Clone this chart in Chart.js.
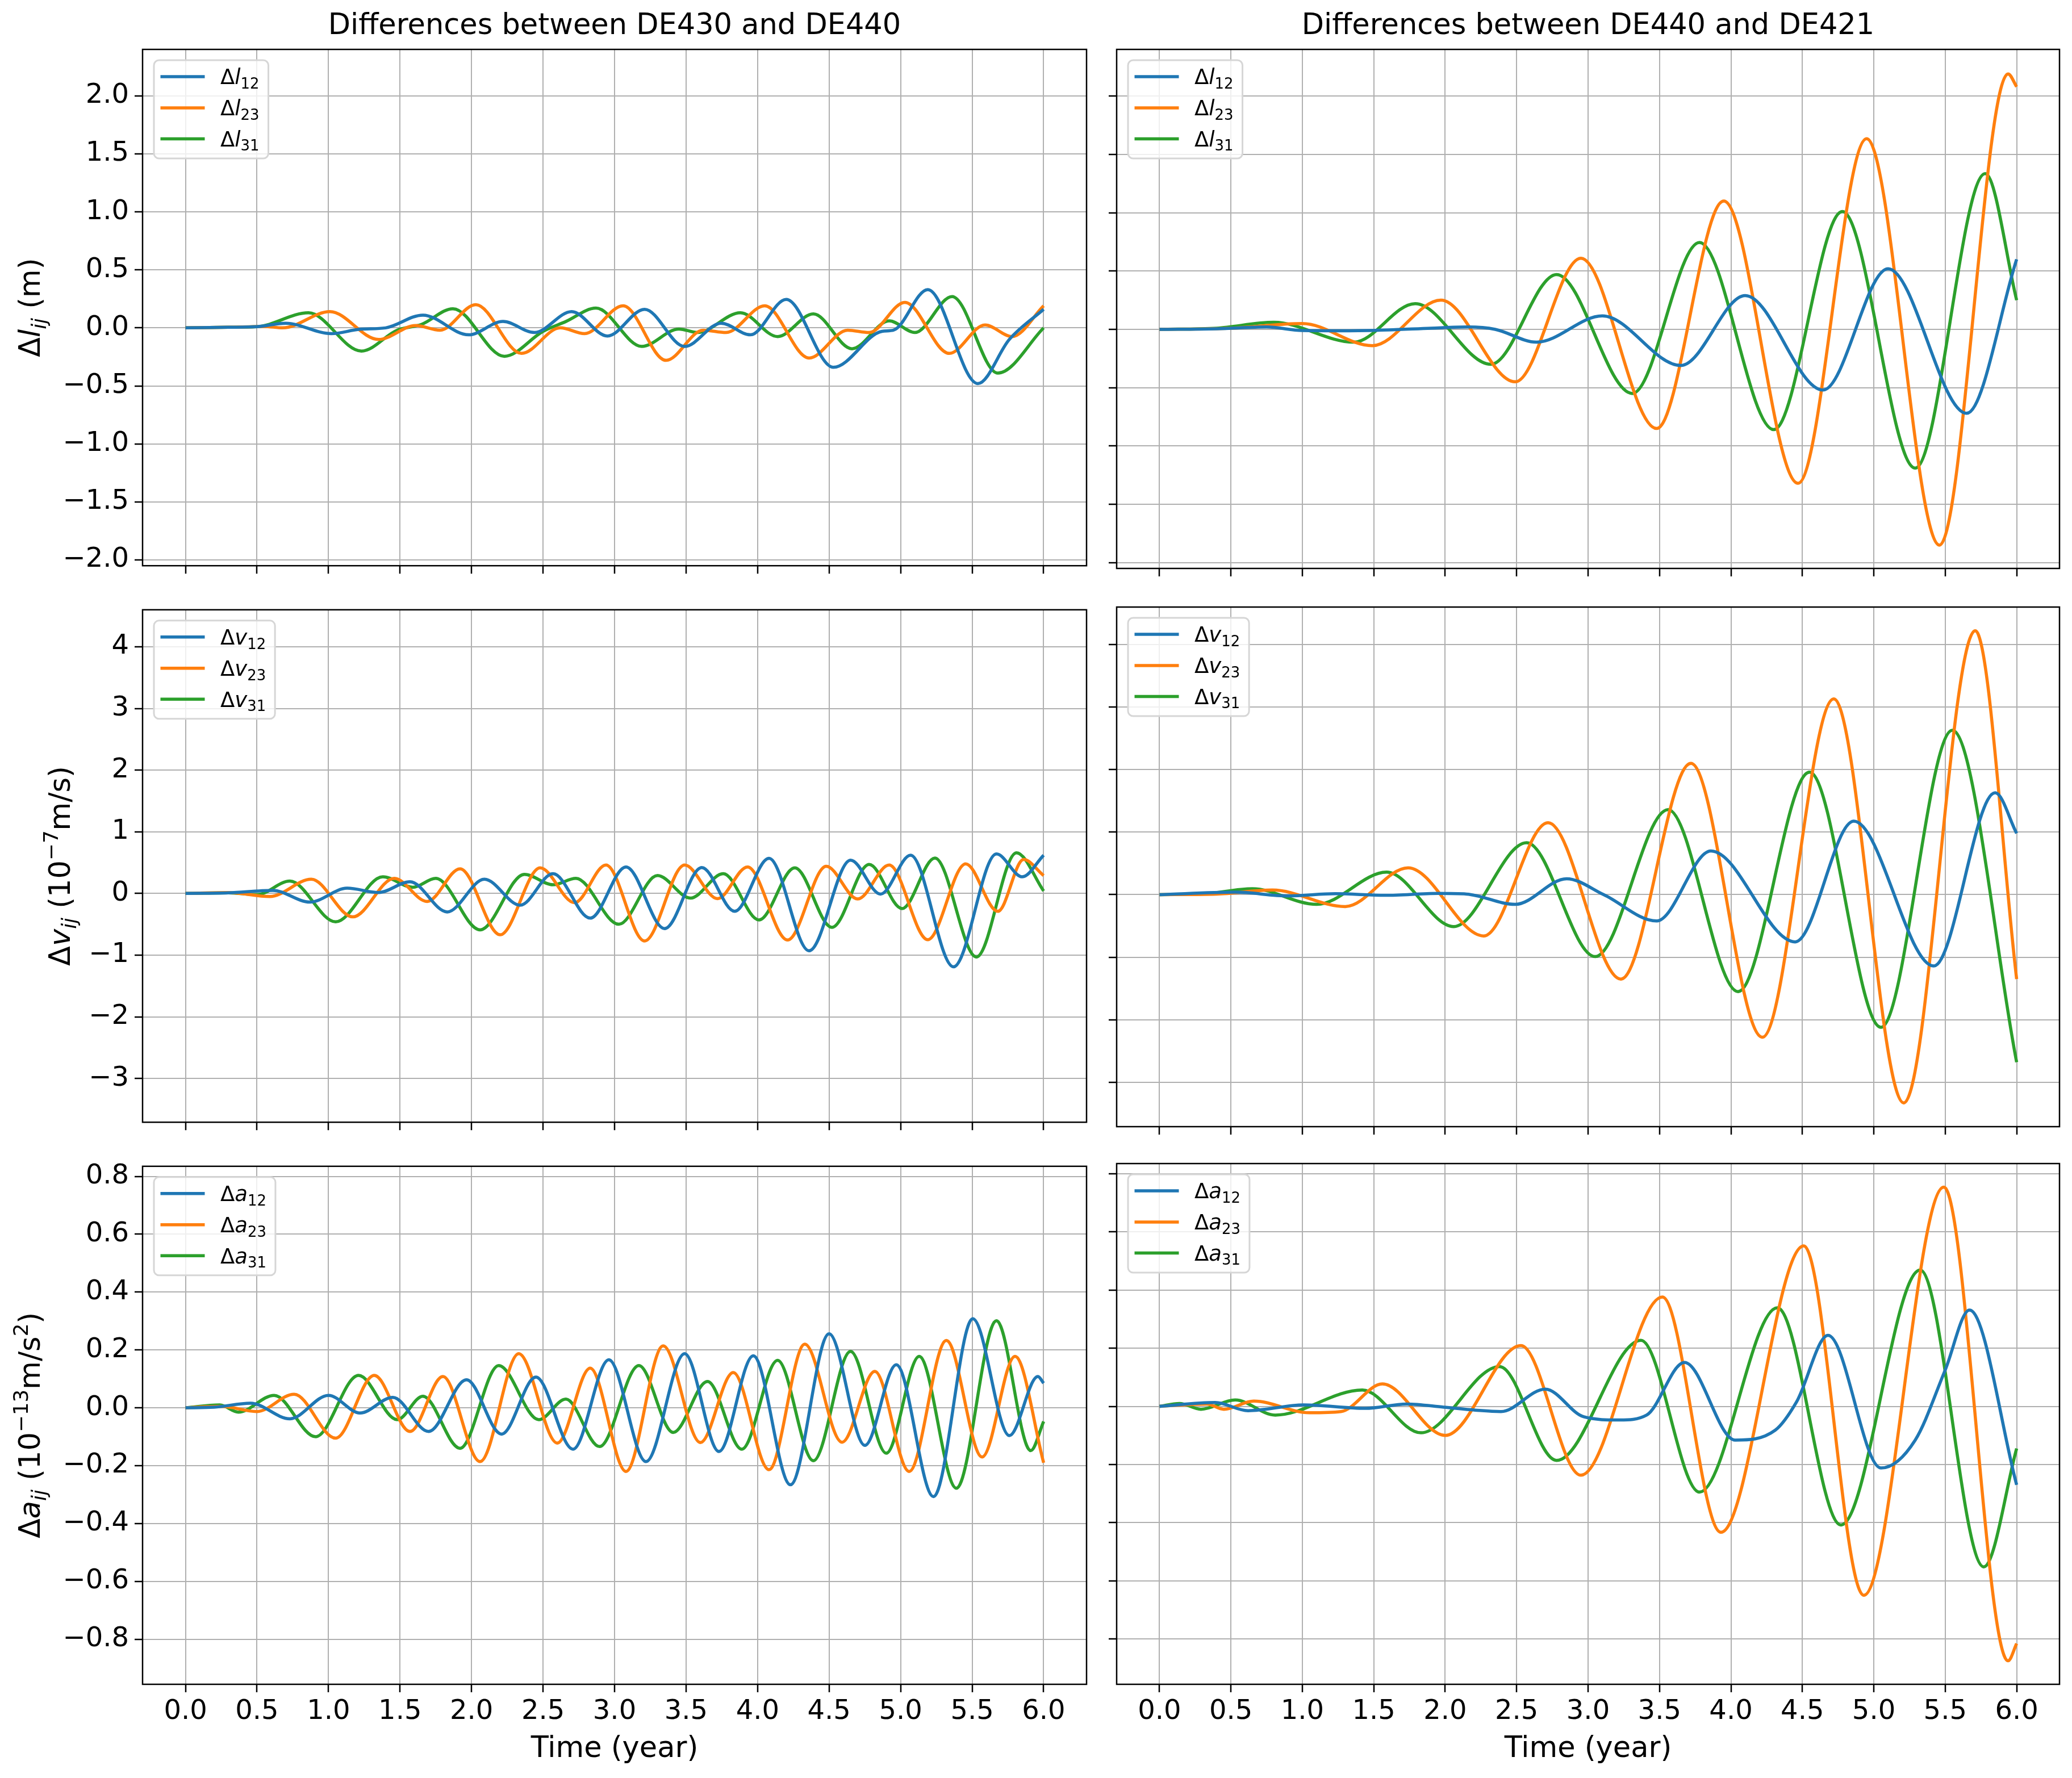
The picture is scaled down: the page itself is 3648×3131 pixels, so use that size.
<!DOCTYPE html>
<html>
<head>
<meta charset="utf-8">
<title>Ephemeris differences</title>
<script src="https://cdn.jsdelivr.net/npm/chart.js@4.4.1/dist/chart.umd.min.js"></script>
<style>
  body { margin: 0; background: #fff; }
  #fig { position: relative; width: 3648px; height: 3131px; background: #fff; overflow: hidden; }
  #fig canvas { position: absolute; }
</style>
</head>
<body>
<div id="fig"></div>
<script>
// time axis and tick values
const xTicks = [0, 0.5, 1, 1.5, 2, 2.5, 3, 3.5, 4, 4.5, 5, 5.5, 6];
const lenTicks = [-2, -1.5, -1, -0.5, 0, 0.5, 1, 1.5, 2];
const velTicks = [-3, -2, -1, 0, 1, 2, 3, 4];
const accTicks = [-0.8, -0.6, -0.4, -0.2, 0, 0.2, 0.4, 0.6, 0.8];

// Δl (m), DE430 vs DE440
const lenA12t = [0, 0.3, 0.5, 0.7, 1.02, 1.22, 1.40, 1.66, 1.98, 2.22, 2.44, 2.70, 2.95, 3.21, 3.49, 3.745, 3.95, 4.20, 4.53, 4.87, 4.95, 5.19, 5.54, 5.76, 6.0];
const lenA12 = [0, 0.005, 0.01, 0.04, -0.05, -0.012, 0.0, 0.11, -0.06, 0.055, -0.04, 0.14, -0.07, 0.16, -0.16, 0.04, -0.06, 0.245, -0.34, -0.03, -0.02, 0.33, -0.48, -0.10, 0.16];
const lenA23t = [0, 0.3, 0.55, 0.68, 1.01, 1.35, 1.61, 1.78, 2.03, 2.35, 2.62, 2.79, 3.06, 3.36, 3.62, 3.78, 4.05, 4.36, 4.63, 4.78, 5.03, 5.34, 5.59, 5.78, 6.0];
const lenA23 = [0, 0.005, 0.012, 0.0, 0.14, -0.10, 0.02, -0.02, 0.20, -0.22, 0.0, -0.05, 0.19, -0.28, -0.02, -0.04, 0.19, -0.26, -0.02, -0.04, 0.22, -0.22, 0.025, -0.075, 0.19];
const lenA31t = [0, 0.3, 0.5, 0.86, 1.23, 1.48, 1.65, 1.87, 2.23, 2.50, 2.66, 2.87, 3.19, 3.45, 3.58, 3.88, 4.14, 4.39, 4.66, 4.92, 5.10, 5.36, 5.68, 6.0];
const lenA31 = [0, 0.005, 0.01, 0.13, -0.20, -0.02, 0.03, 0.165, -0.245, -0.03, 0.055, 0.17, -0.16, -0.01, -0.04, 0.13, -0.075, 0.12, -0.18, 0.06, -0.04, 0.27, -0.39, 0.0];

// Δl (m), DE440 vs DE421
const lenB12t = [0, 0.4, 0.75, 1.0, 1.3, 1.6, 1.9, 2.16, 2.35, 2.64, 3.10, 3.65, 4.10, 4.645, 5.10, 5.65, 6.0];
const lenB12 = [0, 0.005, 0.02, -0.01, -0.012, -0.005, 0.01, 0.02, 0.0, -0.11, 0.115, -0.31, 0.29, -0.52, 0.52, -0.72, 0.6];
const lenB23t = [0, 0.5, 1.0, 1.49, 1.97, 2.49, 2.95, 3.48, 3.95, 4.47, 4.95, 5.46, 5.94, 6.0];
const lenB23 = [0, 0.01, 0.05, -0.14, 0.25, -0.45, 0.61, -0.85, 1.10, -1.32, 1.635, -1.85, 2.19, 2.08];
const lenB31t = [0, 0.4, 0.80, 1.36, 1.79, 2.32, 2.78, 3.31, 3.78, 4.30, 4.78, 5.29, 5.78, 6.0];
const lenB31 = [0, 0.01, 0.06, -0.11, 0.22, -0.30, 0.47, -0.55, 0.745, -0.86, 1.01, -1.19, 1.335, 0.25];

// Δv (1e-7 m/s), DE430 vs DE440
const velA12t = [0, 0.3, 0.61, 0.87, 1.13, 1.35, 1.57, 1.83, 2.09, 2.34, 2.57, 2.83, 3.08, 3.35, 3.61, 3.84, 4.08, 4.36, 4.65, 4.86, 5.07, 5.37, 5.67, 5.85, 6.0];
const velA12 = [0, 0.01, 0.05, -0.14, 0.085, 0.015, 0.19, -0.30, 0.23, -0.19, 0.32, -0.40, 0.43, -0.57, 0.42, -0.29, 0.57, -0.93, 0.54, -0.01, 0.62, -1.19, 0.64, 0.27, 0.62];
const velA23t = [0, 0.3, 0.59, 0.88, 1.17, 1.46, 1.69, 1.92, 2.20, 2.48, 2.72, 2.94, 3.21, 3.49, 3.72, 3.93, 4.21, 4.48, 4.70, 4.92, 5.19, 5.455, 5.68, 5.86, 6.0];
const velA23 = [0, 0.015, -0.05, 0.23, -0.38, 0.245, -0.13, 0.40, -0.67, 0.415, -0.15, 0.46, -0.77, 0.46, -0.085, 0.43, -0.755, 0.44, -0.09, 0.46, -0.75, 0.48, -0.29, 0.55, 0.29];
const velA31t = [0, 0.3, 0.5, 0.73, 1.05, 1.38, 1.59, 1.75, 2.06, 2.37, 2.57, 2.73, 3.03, 3.30, 3.53, 3.76, 4.01, 4.26, 4.52, 4.78, 5.01, 5.24, 5.53, 5.81, 6.0];
const velA31 = [0, 0.01, -0.02, 0.2, -0.46, 0.27, 0.10, 0.245, -0.59, 0.31, 0.14, 0.245, -0.5, 0.29, -0.075, 0.32, -0.43, 0.415, -0.55, 0.47, -0.245, 0.575, -1.03, 0.66, 0.04];

// Δv (1e-7 m/s), DE440 vs DE421
const velB12t = [0, 0.53, 0.9, 1.23, 1.58, 1.95, 2.15, 2.49, 2.85, 3.11, 3.48, 3.86, 4.45, 4.86, 5.42, 5.85, 6.0];
const velB12 = [0, 0.04, -0.02, 0.015, -0.01, 0.02, 0.01, -0.155, 0.255, 0.0, -0.42, 0.70, -0.755, 1.175, -1.14, 1.63, 0.98];
const velB23t = [0, 0.4, 0.79, 1.30, 1.74, 2.27, 2.72, 3.23, 3.72, 4.22, 4.72, 5.21, 5.71, 6.0];
const velB23 = [0, 0.01, 0.075, -0.19, 0.43, -0.66, 1.15, -1.35, 2.10, -2.28, 3.13, -3.33, 4.22, -1.35];
const velB31t = [0, 0.3, 0.65, 1.10, 1.59, 2.06, 2.57, 3.05, 3.56, 4.05, 4.55, 5.05, 5.55, 6.0];
const velB31 = [0, 0.01, 0.095, -0.155, 0.36, -0.51, 0.83, -0.99, 1.36, -1.55, 1.96, -2.12, 2.63, -2.68];

// Δa (1e-13 m/s^2), DE430 vs DE440
const accA12t = [0, 0.2, 0.455, 0.73, 1.0, 1.22, 1.45, 1.70, 1.965, 2.21, 2.45, 2.71, 2.96, 3.22, 3.49, 3.73, 3.97, 4.23, 4.50, 4.75, 4.97, 5.23, 5.505, 5.76, 5.96, 6.0];
const accA12 = [0, 0.002, 0.016, -0.038, 0.043, -0.018, 0.036, -0.082, 0.097, -0.091, 0.106, -0.143, 0.166, -0.186, 0.187, -0.151, 0.18, -0.266, 0.256, -0.13, 0.149, -0.307, 0.308, -0.096, 0.108, 0.085];
const accA23t = [0, 0.25, 0.5, 0.76, 1.05, 1.32, 1.57, 1.80, 2.06, 2.33, 2.60, 2.83, 3.08, 3.34, 3.60, 3.83, 4.08, 4.33, 4.59, 4.82, 5.06, 5.32, 5.57, 5.80, 6.0];
const accA23 = [0, 0.005, -0.013, 0.047, -0.105, 0.112, -0.082, 0.108, -0.186, 0.187, -0.122, 0.137, -0.22, 0.214, -0.12, 0.122, -0.214, 0.22, -0.119, 0.126, -0.22, 0.233, -0.17, 0.178, -0.19];
const accA31t = [0, 0.24, 0.37, 0.62, 0.91, 1.21, 1.48, 1.66, 1.92, 2.19, 2.47, 2.66, 2.895, 3.17, 3.41, 3.65, 3.89, 4.14, 4.39, 4.65, 4.90, 5.13, 5.39, 5.67, 5.91, 6.0];
const accA31 = [0, 0.01, -0.015, 0.043, -0.1, 0.112, -0.041, 0.04, -0.14, 0.146, -0.041, 0.03, -0.134, 0.146, -0.085, 0.091, -0.143, 0.164, -0.183, 0.195, -0.157, 0.178, -0.278, 0.301, -0.148, -0.047];

// Δa (1e-13 m/s^2), DE440 vs DE421
const accB12t = [0, 0.39, 0.62, 1.01, 1.44, 1.73, 1.99, 2.21, 2.39, 2.70, 2.97, 3.22, 3.41, 3.675, 4.03, 4.31, 4.46, 4.68, 5.05, 5.29, 5.50, 5.67, 6.0];
const accB12 = [0, 0.013, -0.015, 0.005, -0.007, 0.008, -0.003, -0.013, -0.018, 0.059, -0.036, -0.047, -0.03, 0.151, -0.116, -0.082, 0.016, 0.244, -0.212, -0.116, 0.125, 0.331, -0.27];
const accB23t = [0, 0.33, 0.45, 0.66, 1.05, 1.27, 1.56, 2.0, 2.53, 2.95, 3.52, 3.93, 4.51, 4.93, 5.49, 5.94, 6.0];
const accB23 = [0, 0.008, -0.01, 0.018, -0.022, -0.018, 0.077, -0.1, 0.209, -0.237, 0.376, -0.433, 0.552, -0.65, 0.754, -0.875, -0.816];
const accB31t = [0, 0.14, 0.29, 0.53, 0.81, 1.42, 1.83, 2.38, 2.78, 3.37, 3.78, 4.325, 4.77, 5.325, 5.77, 6.0];
const accB31 = [0, 0.01, -0.01, 0.022, -0.03, 0.056, -0.091, 0.137, -0.186, 0.227, -0.295, 0.339, -0.408, 0.469, -0.552, -0.145];

const FONT = "'DejaVu Sans', sans-serif";
const GRID = '#b0b0b0';
const COLORS = ['#1f77b4', '#ff7f0e', '#2ca02c'];
const PAIRS = ['12', '23', '31'];

// pixel boxes of the figure: canvas extent and plot area
const COLS = [
  { x0: 0, x1: 1926, left: 251, right: 1913 },
  { x0: 1926, x1: 3648, left: 1966, right: 3626 }
];
const ROWS = [
  { y0: 0, y1: 1035, top: 87, bottom: 1001 },
  { y0: 1035, y1: 2015, top: 1069, bottom: 1984 },
  { y0: 2015, y1: 3131, top: 2049, bottom: 2966 }
];

const rowLabels = [
  [{ t: 'Δ' }, { t: 'l', it: 1 }, { t: 'ij', it: 1, sub: 1 }, { t: ' (m)' }],
  [{ t: 'Δ' }, { t: 'v', it: 1 }, { t: 'ij', it: 1, sub: 1 }, { t: ' (10' }, { t: '−7', sup: 1 }, { t: 'm/s)' }],
  [{ t: 'Δ' }, { t: 'a', it: 1 }, { t: 'ij', it: 1, sub: 1 }, { t: ' (10' }, { t: '−13', sup: 1 }, { t: 'm/s' }, { t: '2', sup: 1 }, { t: ')' }]
];
const rowLabelX = [52, 105, 52];

const panels = [
  { row: 0, col: 0, q: 'l', ymin: -2.05, ymax: 2.40, ticks: lenTicks, dec: 1, title: 'Differences between DE430 and DE440',
    data: [[lenA12t, lenA12], [lenA23t, lenA23], [lenA31t, lenA31]] },
  { row: 0, col: 1, q: 'l', ymin: -2.05, ymax: 2.40, ticks: lenTicks, dec: 1, title: 'Differences between DE440 and DE421',
    data: [[lenB12t, lenB12], [lenB23t, lenB23], [lenB31t, lenB31]] },
  { row: 1, col: 0, q: 'v', ymin: -3.71, ymax: 4.60, ticks: velTicks, dec: 0,
    data: [[velA12t, velA12], [velA23t, velA23], [velA31t, velA31]] },
  { row: 1, col: 1, q: 'v', ymin: -3.71, ymax: 4.60, ticks: velTicks, dec: 0,
    data: [[velB12t, velB12], [velB23t, velB23], [velB31t, velB31]] },
  { row: 2, col: 0, q: 'a', ymin: -0.956, ymax: 0.835, ticks: accTicks, dec: 1,
    data: [[accA12t, accA12], [accA23t, accA23], [accA31t, accA31]] },
  { row: 2, col: 1, q: 'a', ymin: -0.956, ymax: 0.835, ticks: accTicks, dec: 1,
    data: [[accB12t, accB12], [accB23t, accB23], [accB31t, accB31]] }
];

function fmt(v, dec) {
  return (v < 0 ? '−' : '') + Math.abs(v).toFixed(dec);
}

function runFont(r, size) {
  const s = (r.sub || r.sup) ? size * 0.7 : size;
  return (r.it ? 'italic ' : '') + s + 'px ' + FONT;
}

function richWidth(ctx, runs, size) {
  let w = 0;
  runs.forEach(r => { ctx.font = runFont(r, size); w += ctx.measureText(r.t).width; });
  return w;
}

// draws mathtext-like label (subscripts / superscripts); align 'left' or 'center'
function drawRich(ctx, runs, x, y, size, align, rotate) {
  ctx.save();
  ctx.translate(x, y);
  if (rotate) ctx.rotate(-Math.PI / 2);
  ctx.fillStyle = '#000';
  ctx.textBaseline = 'alphabetic';
  ctx.textAlign = 'left';
  let cx = align === 'center' ? -richWidth(ctx, runs, size) / 2 : 0;
  const base = size * 0.36;
  runs.forEach(r => {
    ctx.font = runFont(r, size);
    const dy = r.sub ? size * 0.2 : (r.sup ? -size * 0.42 : 0);
    ctx.fillText(r.t, cx, base + dy);
    cx += ctx.measureText(r.t).width;
  });
  ctx.restore();
}

const fig = document.getElementById('fig');

function makePanel(p) {
  const col = COLS[p.col], row = ROWS[p.row];
  const W = col.x1 - col.x0, H = row.y1 - row.y0;
  const cv = document.createElement('canvas');
  cv.width = W; cv.height = H;
  cv.style.left = col.x0 + 'px'; cv.style.top = row.y0 + 'px';
  cv.style.width = W + 'px'; cv.style.height = H + 'px';
  fig.appendChild(cv);

  const showY = p.col === 0, showX = p.row === 2;
  const legendRuns = PAIRS.map(s => [{ t: 'Δ' }, { t: p.q, it: 1 }, { t: s, sub: 1 }]);

  const deco = {
    id: 'deco',
    afterDatasetsDraw(chart) {
      const ctx = chart.ctx, a = chart.chartArea;
      // frame on all four sides
      ctx.save();
      ctx.strokeStyle = '#000';
      ctx.lineWidth = 2.5;
      ctx.strokeRect(a.left, a.top, a.right - a.left, a.bottom - a.top);
      ctx.restore();

      // legend box
      const fs = 37;
      let tw = 0;
      legendRuns.forEach(r => { tw = Math.max(tw, richWidth(ctx, r, fs)); });
      const bx = a.left + 20, by = a.top + 19, bw = 117 + tw + 16, bh = 173, rad = 9;
      ctx.save();
      ctx.beginPath();
      ctx.moveTo(bx + rad, by);
      ctx.lineTo(bx + bw - rad, by);
      ctx.arcTo(bx + bw, by, bx + bw, by + rad, rad);
      ctx.lineTo(bx + bw, by + bh - rad);
      ctx.arcTo(bx + bw, by + bh, bx + bw - rad, by + bh, rad);
      ctx.lineTo(bx + rad, by + bh);
      ctx.arcTo(bx, by + bh, bx, by + bh - rad, rad);
      ctx.lineTo(bx, by + rad);
      ctx.arcTo(bx, by, bx + rad, by, rad);
      ctx.closePath();
      ctx.fillStyle = 'rgba(255,255,255,0.8)';
      ctx.fill();
      ctx.strokeStyle = '#d6d6d6';
      ctx.lineWidth = 3;
      ctx.stroke();
      const rowsY = [29, 84, 138.5];
      chart.data.datasets.forEach((ds, i) => {
        const yy = by + rowsY[i];
        ctx.strokeStyle = ds.borderColor;
        ctx.lineWidth = 5.5;
        ctx.beginPath();
        ctx.moveTo(bx + 11.5, yy);
        ctx.lineTo(bx + 89.5, yy);
        ctx.stroke();
        drawRich(ctx, legendRuns[i], bx + 117, yy, fs, 'left', false);
      });
      ctx.restore();

      // column title
      if (p.title) {
        ctx.save();
        ctx.fillStyle = '#000';
        ctx.font = '51px ' + FONT;
        ctx.textAlign = 'center';
        ctx.textBaseline = 'middle';
        ctx.fillText(p.title, (a.left + a.right) / 2, 47 - row.y0);
        ctx.restore();
      }

      // y axis title
      if (showY) {
        drawRich(ctx, rowLabels[p.row], rowLabelX[p.row] - col.x0, (a.top + a.bottom) / 2, 51, 'center', true);
      }
    }
  };

  new Chart(cv, {
    type: 'line',
    data: {
      datasets: p.data.map((d, i) => ({
        label: 'Δ' + p.q + PAIRS[i],
        data: d[0].map((t, k) => ({ x: t, y: d[1][k] })),
        borderColor: COLORS[i],
        backgroundColor: COLORS[i],
        borderWidth: 5.5,
        pointRadius: 0,
        fill: false,
        cubicInterpolationMode: 'monotone'
      }))
    },
    options: {
      responsive: false,
      animation: false,
      devicePixelRatio: 1,
      layout: { padding: { top: row.top - row.y0, right: col.x1 - col.right, left: 0, bottom: 0 } },
      plugins: { legend: { display: false }, tooltip: { enabled: false }, title: { display: false } },
      scales: {
        x: {
          type: 'linear', min: -0.3, max: 6.3, bounds: 'data',
          afterBuildTicks: s => { s.ticks = xTicks.map(v => ({ value: v })); },
          afterFit: s => { s.height = row.y1 - row.bottom; },
          grid: { color: GRID, lineWidth: 2, tickColor: '#000', tickWidth: 2.5, tickLength: 14 },
          border: { display: false },
          ticks: { display: showX, autoSkip: false, maxRotation: 0, color: '#000', padding: 6,
                   font: { family: FONT, size: 48 }, callback: v => fmt(v, 1) },
          title: { display: showX, text: 'Time (year)', color: '#000', font: { family: FONT, size: 51 },
                   padding: { top: 0, bottom: 20 } }
        },
        y: {
          type: 'linear', min: p.ymin, max: p.ymax, bounds: 'data',
          afterBuildTicks: s => { s.ticks = p.ticks.map(v => ({ value: v })); },
          afterFit: s => { s.width = col.left - col.x0; },
          grid: { color: GRID, lineWidth: 2, tickColor: '#000', tickWidth: 2.5, tickLength: 14 },
          border: { display: false },
          ticks: { display: showY, autoSkip: false, color: '#000', padding: 10,
                   font: { family: FONT, size: 48 }, callback: v => fmt(v, p.dec) }
        }
      }
    },
    plugins: [deco]
  });
}

panels.forEach(makePanel);
</script>
</body>
</html>
